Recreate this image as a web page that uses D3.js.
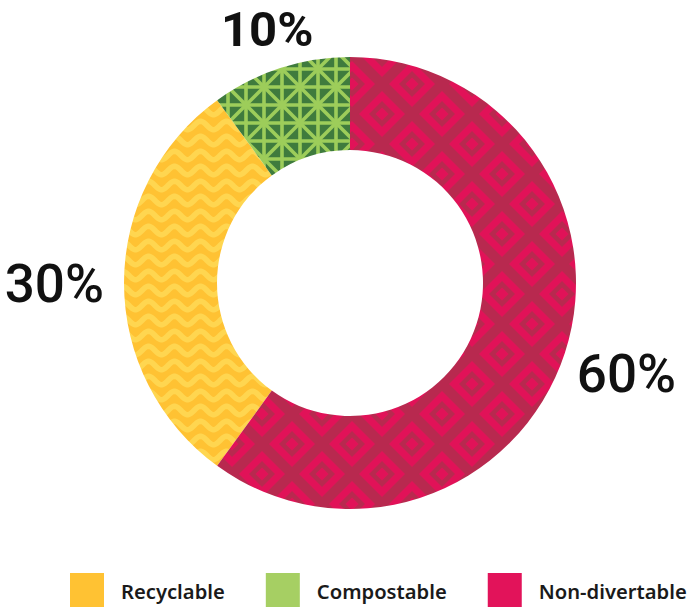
<!DOCTYPE html>
<html><head><meta charset="utf-8">
<script src="https://cdn.jsdelivr.net/npm/d3@7"></script>
<style>body{margin:0;background:#fff}</style></head>
<body>
<svg id="c" width="690" height="610"></svg>
<script>
const categories = ["Recyclable", "Compostable", "Non-divertable"];
const values = [30, 10, 60];
const valueLabels = ["30%", "10%", "60%"];
const legendColors = ["#FFC233", "#A6CF63", "#E2135A"];

const svg = d3.select("#c");
const cx = 350, cy = 283, R = 226, R0 = 133;
const defs = svg.append("defs");

// Recyclable: yellow waves
const p0 = defs.append("pattern").attr("id", "p0").attr("patternUnits", "userSpaceOnUse")
  .attr("width", 26).attr("height", 15);
p0.append("rect").attr("width", 26).attr("height", 15).attr("fill", "#FFC233");
const wavePts = d3.range(-3, 30, 1).map(x => [x, 7.5 - 4.2 * Math.sin(2 * Math.PI * x / 26)]);
p0.append("path").attr("d", d3.line()(wavePts)).attr("fill", "none")
  .attr("stroke", "#FFD650").attr("stroke-width", 5.5);

// Compostable: green lattice
const s = 18;
const p1 = defs.append("pattern").attr("id", "p1").attr("patternUnits", "userSpaceOnUse")
  .attr("width", 2 * s).attr("height", 2 * s).attr("x", 4).attr("y", 2);
p1.append("rect").attr("width", 2 * s).attr("height", 2 * s).attr("fill", "#3F7B3D");
const gl = [[0,0,0,2*s],[s,0,s,2*s],[2*s,0,2*s,2*s],[0,0,2*s,0],[0,s,2*s,s],[0,2*s,2*s,2*s],
            [0,0,2*s,2*s],[2*s,0,0,2*s]];
p1.selectAll("line").data(gl).join("line")
  .attr("x1", d => d[0]).attr("y1", d => d[1]).attr("x2", d => d[2]).attr("y2", d => d[3])
  .attr("stroke", "#9DCD5A").attr("stroke-width", 3.6);

// Non-divertable: nested diamonds
const p2 = defs.append("pattern").attr("id", "p2").attr("patternUnits", "userSpaceOnUse")
  .attr("width", 60).attr("height", 60).attr("x", 32).attr("y", 11);
p2.append("rect").attr("width", 60).attr("height", 60).attr("fill", "#B8294F");
const centers = [[0,0],[60,0],[0,60],[60,60],[30,30]];
const diamond = (c, r) => `M${c[0]},${c[1]-r}L${c[0]+r},${c[1]}L${c[0]},${c[1]+r}L${c[0]-r},${c[1]}Z`;
centers.forEach(c => {
  p2.append("path").attr("d", diamond(c, 23)).attr("fill", "#E11258");
  p2.append("path").attr("d", diamond(c, 13)).attr("fill", "#B8294F");
  p2.append("path").attr("d", diamond(c, 6.5)).attr("fill", "#E11258");
});

const fills = ["url(#p0)", "url(#p1)", "url(#p2)"];

const total = d3.sum(values);
const startA = -2 * Math.PI * (values[0] + values[1]) / total;
const pie = d3.pie().sort(null).value(d => d).startAngle(startA).endAngle(startA + 2 * Math.PI);
const arcs = pie(values);
const arc = d3.arc().innerRadius(R0).outerRadius(R);

const g = svg.append("g").attr("transform", `translate(${cx},${cy})`);
g.selectAll("path.slice").data(arcs).join("path").attr("class", "slice")
  .attr("d", arc).attr("fill", (d, i) => fills[i]);

// value labels
arcs.forEach((d, i) => {
  const a = (d.startAngle + d.endAngle) / 2;
  const t = g.append("text").text(valueLabels[i])
    .attr("font-family", "Roboto, sans-serif")
    .attr("font-weight", i === 1 ? 700 : 500)
    .attr("font-size", i === 1 ? 49 : 53)
    .attr("fill", "#111").attr("text-anchor", "middle");
  const bb = t.node().getBBox();
  const hw = bb.width / 2;
  const rr = R + 20 + hw * Math.abs(Math.sin(a)) + 8 * Math.cos(a);
  t.attr("x", rr * Math.sin(a)).attr("y", -rr * Math.cos(a)).attr("dy", "0.36em");
});

// legend
let lx = 70;
const ly = 573;
categories.forEach((c, i) => {
  svg.append("rect").attr("x", lx).attr("y", ly).attr("width", 34).attr("height", 34)
    .attr("fill", legendColors[i]);
  const t = svg.append("text").attr("x", lx + 51).attr("y", ly + 26).text(c)
    .attr("font-family", "'Noto Sans', sans-serif").attr("font-weight", 600)
    .attr("font-size", 20.2).attr("fill", "#1a1a1a");
  lx += 51 + t.node().getComputedTextLength() + 41;
});
</script>
</body></html>
